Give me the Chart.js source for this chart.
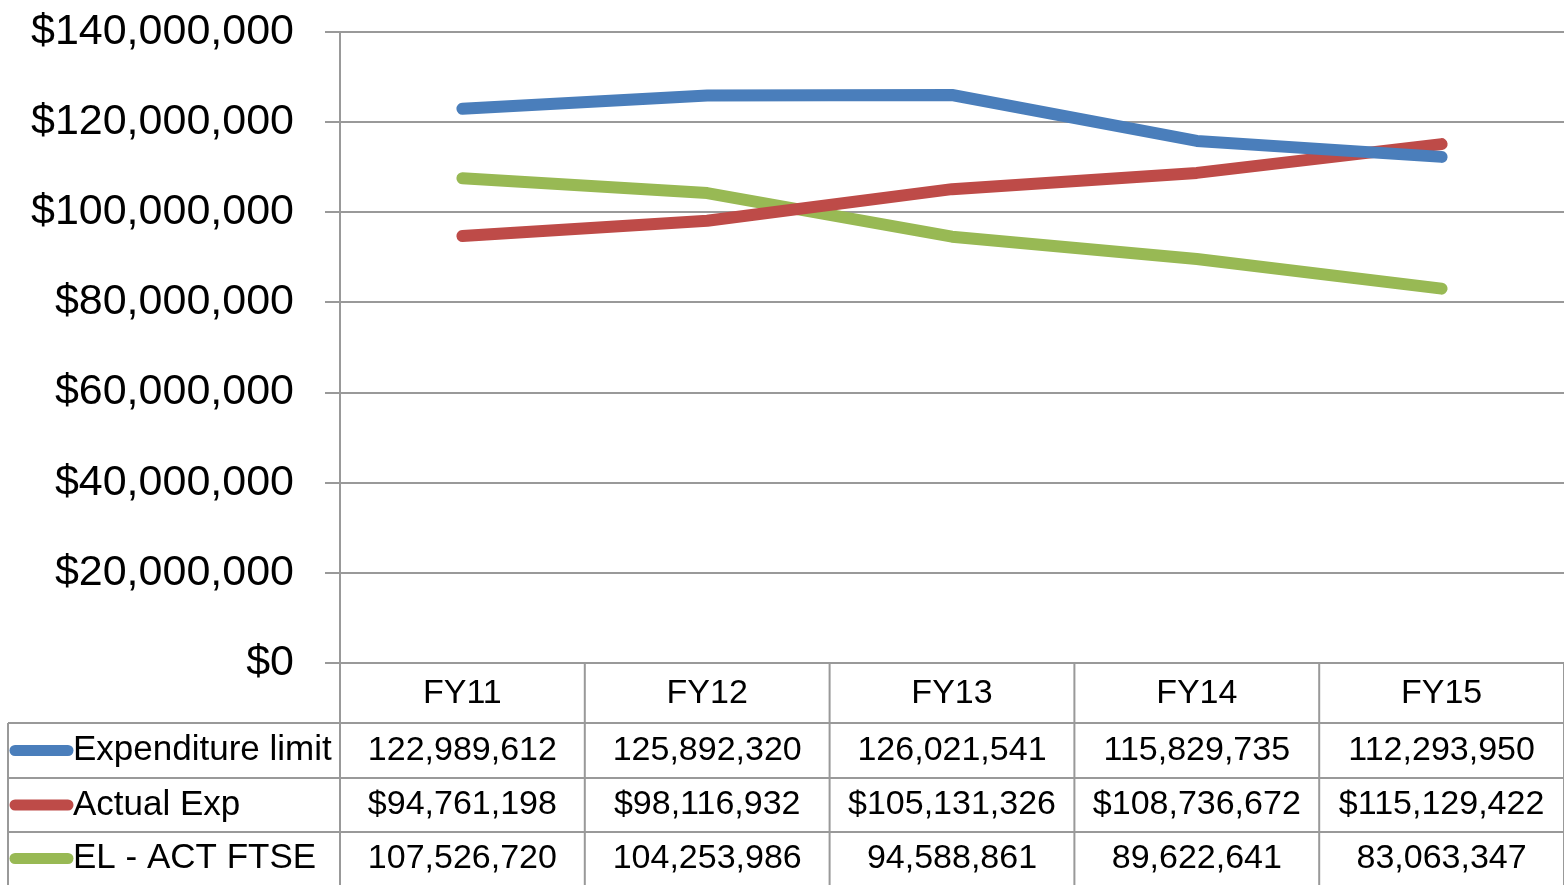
<!DOCTYPE html>
<html>
<head>
<meta charset="utf-8">
<script src="https://cdn.jsdelivr.net/npm/chart.js@4"></script>
<style>
  html, body { margin: 0; padding: 0; background: #fff; }
  #wrap { width: 1564px; height: 885px; }
</style>
</head>
<body>
<div id="wrap"><canvas id="chart" width="1564" height="885"></canvas></div>
<script>
// Chart data
const years = ['FY11', 'FY12', 'FY13', 'FY14', 'FY15'];
const expenditureLimit = [122989612, 125892320, 126021541, 115829735, 112293950];
const actualExp = [94761198, 98116932, 105131326, 108736672, 115129422];
const elActFtse = [107526720, 104253986, 94588861, 89622641, 83063347];
const yTicks = [0, 20000000, 40000000, 60000000, 80000000, 100000000, 120000000, 140000000];

const seriesNames = ['Expenditure limit', 'Actual Exp', 'EL - ACT FTSE'];
const seriesColors = ['#4a7ebb', '#be4b48', '#98b954'];
const FONT = "'Liberation Sans', Arial, sans-serif";
const GRID = '#999999';

function fmt(n, dollar) {
    return (dollar ? '$' : '') + n.toLocaleString('en-US');
}

/**
 * Draw the data table under the plot, lined up with the x scale
 */
const dataTablePlugin = {
    id: 'dataTable',
    afterDraw(chart) {
        const ctx = chart.ctx;
        const x = chart.scales.x;
        const area = chart.chartArea;
        const top = area.bottom;
        const rows = [top, top + 60, top + 115, top + 169, chart.height];
        const leftEdge = 8;
        const half = (x.getPixelForValue(1) - x.getPixelForValue(0)) / 2;

        ctx.save();
        ctx.strokeStyle = GRID;
        ctx.lineWidth = 2;

        // horizontal rules
        ctx.beginPath();
        for (let r = 1; r < 4; r++) {
            ctx.moveTo(leftEdge, rows[r]);
            ctx.lineTo(area.right, rows[r]);
        }
        // vertical rules
        ctx.moveTo(area.left, top);
        ctx.lineTo(area.left, chart.height);
        years.forEach((y, i) => {
            const xr = x.getPixelForValue(i) + half;
            ctx.moveTo(xr, top);
            ctx.lineTo(xr, chart.height);
        });
        ctx.moveTo(leftEdge, rows[1]);
        ctx.lineTo(leftEdge, chart.height);
        ctx.stroke();

        // header
        ctx.fillStyle = '#000';
        ctx.font = '34px ' + FONT;
        ctx.textAlign = 'center';
        ctx.textBaseline = 'middle';
        years.forEach((y, i) => {
            ctx.fillText(y, x.getPixelForValue(i), (rows[0] + rows[1]) / 2 + 1);
        });

        // series rows
        const values = [expenditureLimit, actualExp, elActFtse];
        values.forEach((vals, s) => {
            const cy = (rows[s + 1] + rows[s + 2]) / 2;
            // legend swatch
            ctx.strokeStyle = seriesColors[s];
            ctx.lineWidth = 11;
            ctx.lineCap = 'round';
            ctx.beginPath();
            ctx.moveTo(15, cy);
            ctx.lineTo(68, cy);
            ctx.stroke();

            ctx.font = '35px ' + FONT;
            ctx.textAlign = 'left';
            ctx.fillText(seriesNames[s], 73, cy);
            ctx.font = '34px ' + FONT;
            ctx.textAlign = 'center';
            vals.forEach((v, i) => {
                ctx.fillText(fmt(v, s === 1), x.getPixelForValue(i), cy);
            });
        });
        ctx.restore();
    }
};

new Chart(document.getElementById('chart'), {
    type: 'line',
    data: {
        labels: years,
        datasets: [expenditureLimit, actualExp, elActFtse].map((d, i) => ({
            label: seriesNames[i],
            data: d,
            borderColor: seriesColors[i],
            backgroundColor: seriesColors[i],
            borderWidth: 12,
            borderCapStyle: 'round',
            borderJoinStyle: 'round',
            pointRadius: 0,
            tension: 0
        }))
    },
    options: {
        responsive: false,
        animation: false,
        layout: { padding: { top: 32, bottom: 222, left: 0, right: 0 } },
        plugins: {
            legend: { display: false },
            tooltip: { enabled: false }
        },
        scales: {
            x: {
                type: 'category',
                offset: true,
                display: false
            },
            y: {
                min: 0,
                max: 140000000,
                afterFit(scale) {
                    scale.width = 340;
                    scale.paddingTop = 0;
                    scale.paddingBottom = 0;
                },
                afterBuildTicks(scale) { scale.ticks = yTicks.map(v => ({ value: v })); },
                grid: { color: GRID, lineWidth: 2, tickLength: 15 },
                border: { display: true, color: GRID, width: 2 },
                ticks: {
                    padding: 31,
                    color: '#000',
                    font: { family: FONT, size: 43 },
                    callback: v => fmt(v, true)
                }
            }
        }
    },
    plugins: [dataTablePlugin]
});
</script>
</body>
</html>
